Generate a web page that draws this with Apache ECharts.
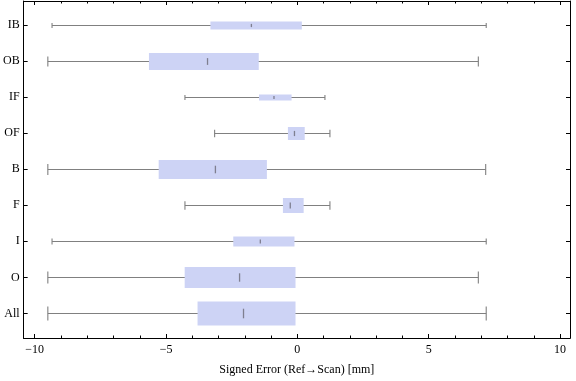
<!DOCTYPE html>
<html><head><meta charset="utf-8">
<script src="https://cdn.jsdelivr.net/npm/echarts@6/dist/echarts.min.js"></script>
<style>html,body{margin:0;padding:0;background:#fff}#c{width:576px;height:381px}</style>
</head><body><div id="c"></div>
<script>
// categories bottom -> top
const categories = ['All','O','I','F','B','OF','IF','OB','IB'];
const whiskerLow  = [-9.50,-9.50,-9.34,-4.28,-9.50,-3.15,-4.28,-9.50,-9.34];
const q1          = [-3.80,-4.29,-2.44,-0.55,-5.28,-0.36,-1.46,-5.65,-3.31];
const median      = [-2.05,-2.20,-1.41,-0.27,-3.12,-0.11,-0.89,-3.42,-1.75];
const q3          = [-0.07,-0.07,-0.11, 0.24,-1.16, 0.28,-0.22,-1.47, 0.17];
const whiskerHigh = [ 7.19, 6.89, 7.19, 1.24, 7.17, 1.24, 1.05, 6.89, 7.19];
// relative box thickness (px) per category
const boxThickness = [24,21,10,15,19,13,6,17,8];
const xTicks = [-10,-5,0,5,10];
const xMinorTicks = [-9,-8,-7,-6,-4,-3,-2,-1,1,2,3,4,6,7,8,9];
const yTickPos = categories.map((c,i)=>i+1);

const FONT = '"Liberation Serif", "DejaVu Serif", serif';
const X_MIN = -10.42, X_MAX = 10.38, Y_MIN = 0.32, Y_MAX = 9.66;

const data = categories.map((c,i)=>[i+1, whiskerLow[i], q1[i], median[i], q3[i], whiskerHigh[i], boxThickness[i]]);

function renderItem(params, api){
  const y = api.value(0);
  const lo = api.coord([api.value(1), y]);
  const b1 = api.coord([api.value(2), y]);
  const md = api.coord([api.value(3), y]);
  const b3 = api.coord([api.value(4), y]);
  const hi = api.coord([api.value(5), y]);
  const h = api.value(6);
  const cy = Math.round(lo[1]) + 0.5;
  const capH = Math.max(5, h*0.58);
  const medH = Math.max(3, h*0.4);
  const lineStyle = {stroke:'#808080', lineWidth:1.1};
  return {type:'group', children:[
    {type:'line', shape:{x1:lo[0], y1:cy, x2:hi[0], y2:cy}, style:lineStyle},
    {type:'line', shape:{x1:lo[0], y1:cy-capH/2, x2:lo[0], y2:cy+capH/2}, style:lineStyle},
    {type:'line', shape:{x1:hi[0], y1:cy-capH/2, x2:hi[0], y2:cy+capH/2}, style:lineStyle},
    {type:'rect', shape:{x:b1[0], y:cy-h/2, width:b3[0]-b1[0], height:h}, style:{fill:'#cdd3f5'}},
    {type:'line', shape:{x1:md[0], y1:cy-medH/2, x2:md[0], y2:cy+medH/2}, style:{stroke:'#7f7f90', lineWidth:1.3}}
  ]};
}

const axisCommon = {type:'value', min:X_MIN, max:X_MAX, splitLine:{show:false},
  axisLine:{show:true, onZero:false, lineStyle:{color:'#000', width:1}}};
const chart = echarts.init(document.getElementById('c'));
chart.setOption({
  animation:false,
  grid:{left:20, right:6, top:1, bottom:40},
  xAxis:[
    Object.assign({}, axisCommon, {position:'bottom',
      axisTick:{show:true, inside:true, length:4, customValues:xTicks, lineStyle:{color:'#000'}},
      axisLabel:{show:true, customValues:xTicks, formatter:v=> v<0 ? '\u2212'+Math.abs(v) : String(v),
        fontFamily:FONT, fontSize:12, color:'#000', margin:6},
      name:'Signed Error (Ref\u2192Scan) [mm]', nameLocation:'middle', nameGap:26,
      nameTextStyle:{fontFamily:FONT, fontSize:12, color:'#000'}}),
    Object.assign({}, axisCommon, {position:'bottom',
      axisTick:{show:true, inside:true, length:2.5, customValues:xMinorTicks, lineStyle:{color:'#000'}},
      axisLabel:{show:false}}),
    Object.assign({}, axisCommon, {position:'top',
      axisTick:{show:true, inside:true, length:4, customValues:xTicks, lineStyle:{color:'#000'}},
      axisLabel:{show:false}}),
    Object.assign({}, axisCommon, {position:'top',
      axisTick:{show:true, inside:true, length:2.5, customValues:xMinorTicks, lineStyle:{color:'#000'}},
      axisLabel:{show:false}})
  ],
  yAxis:[
    {type:'value', position:'left', min:Y_MIN, max:Y_MAX, splitLine:{show:false},
      axisLine:{show:true, onZero:false, lineStyle:{color:'#000'}},
      axisTick:{show:true, inside:true, length:4, customValues:yTickPos, lineStyle:{color:'#000'}},
      axisLabel:{show:true, customValues:yTickPos, formatter:v=>categories[Math.round(v)-1],
        fontFamily:FONT, fontSize:12, color:'#000', margin:4}},
    {type:'value', position:'right', min:Y_MIN, max:Y_MAX, splitLine:{show:false},
      axisLine:{show:true, onZero:false, lineStyle:{color:'#000'}},
      axisTick:{show:true, inside:true, length:4, customValues:yTickPos, lineStyle:{color:'#000'}},
      axisLabel:{show:false}}
  ],
  series:[{type:'custom', renderItem, data, xAxisIndex:0, yAxisIndex:0,
    encode:{x:[1,2,3,4,5], y:0}}]
});
</script></body></html>
